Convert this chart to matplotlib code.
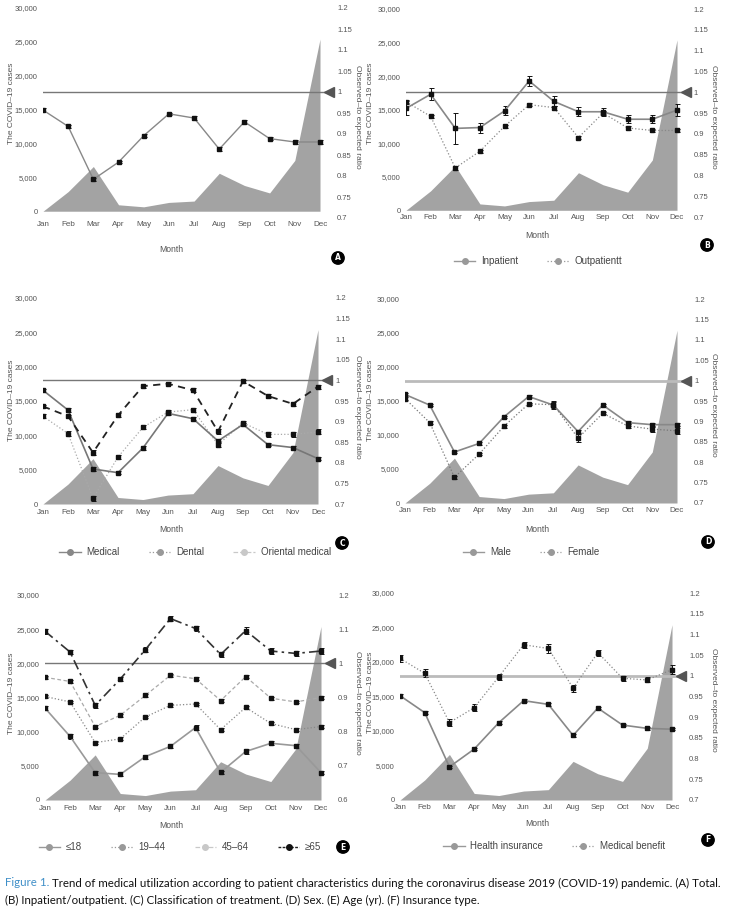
import numpy as np
import matplotlib
matplotlib.use('Agg')
import matplotlib.pyplot as plt
from matplotlib.lines import Line2D
from matplotlib.ticker import FuncFormatter
from matplotlib.transforms import blended_transform_factory

# ── data ─────────────────────────────────────────────────────────────────────
months = ['Jan', 'Feb', 'Mar', 'Apr', 'May', 'Jun',
          'Jul', 'Aug', 'Sep', 'Oct', 'Nov', 'Dec']
covid_cases = [0, 2900, 6600, 950, 650, 1300, 1500, 5600, 3800, 2700, 7500, 25400]

# (A) total
total       = [0.957, 0.918, 0.792, 0.833, 0.896, 0.948, 0.938, 0.864, 0.929, 0.889, 0.881, 0.881]
total_err   = [0.004, 0.004, 0.004, 0.003, 0.003, 0.003, 0.004, 0.004, 0.004, 0.004, 0.004, 0.005]

# (B) inpatient / outpatient
inpatient       = [0.961, 0.995, 0.913, 0.915, 0.955, 1.027, 0.978, 0.953, 0.953, 0.935, 0.935, 0.957]
inpatient_err   = [0.017, 0.014, 0.038, 0.012, 0.011, 0.011, 0.012, 0.011, 0.010, 0.010, 0.010, 0.015]
outpatient      = [0.977, 0.942, 0.818, 0.858, 0.918, 0.970, 0.963, 0.891, 0.950, 0.914, 0.908, 0.908]
outpatient_err  = [0.005, 0.004, 0.004, 0.004, 0.004, 0.004, 0.005, 0.004, 0.006, 0.004, 0.004, 0.004]

# (C) classification of treatment
medical       = [0.976, 0.928, 0.785, 0.776, 0.836, 0.920, 0.907, 0.853, 0.893, 0.844, 0.837, 0.810]
medical_err   = [0.003, 0.004, 0.004, 0.004, 0.004, 0.004, 0.004, 0.004, 0.004, 0.003, 0.003, 0.004]
dental        = [0.913, 0.871, 0.714, 0.814, 0.886, 0.923, 0.929, 0.844, 0.897, 0.869, 0.869, 0.875]
dental_err    = [0.005, 0.005, 0.006, 0.005, 0.005, 0.004, 0.005, 0.006, 0.005, 0.006, 0.006, 0.006]
oriental      = [0.937, 0.913, 0.825, 0.915, 0.986, 0.992, 0.976, 0.876, 0.998, 0.962, 0.943, 0.985]
oriental_err  = [0.004, 0.004, 0.005, 0.005, 0.004, 0.004, 0.005, 0.005, 0.004, 0.004, 0.004, 0.005]

# (D) sex
male          = [0.966, 0.940, 0.825, 0.846, 0.911, 0.961, 0.940, 0.875, 0.940, 0.897, 0.892, 0.892]
male_err      = [0.004, 0.003, 0.003, 0.003, 0.003, 0.003, 0.008, 0.004, 0.003, 0.003, 0.003, 0.004]
female        = [0.956, 0.897, 0.763, 0.820, 0.888, 0.943, 0.941, 0.859, 0.920, 0.889, 0.881, 0.877]
female_err    = [0.004, 0.003, 0.003, 0.003, 0.003, 0.003, 0.010, 0.010, 0.003, 0.006, 0.006, 0.007]

# (E) age (yr)
age_le18      = [0.869, 0.786, 0.680, 0.675, 0.727, 0.757, 0.812, 0.681, 0.742, 0.766, 0.759, 0.680]
age_le18_err  = [0.006, 0.006, 0.006, 0.006, 0.006, 0.006, 0.007, 0.005, 0.006, 0.006, 0.006, 0.005]
age_19_44     = [0.903, 0.887, 0.768, 0.779, 0.843, 0.877, 0.881, 0.806, 0.871, 0.824, 0.806, 0.815]
age_19_44_err = [0.004, 0.004, 0.004, 0.004, 0.004, 0.004, 0.004, 0.004, 0.004, 0.004, 0.004, 0.005]
age_45_64     = [0.959, 0.947, 0.815, 0.848, 0.906, 0.965, 0.955, 0.891, 0.961, 0.898, 0.887, 0.900]
age_45_64_err = [0.004, 0.004, 0.004, 0.004, 0.004, 0.004, 0.004, 0.004, 0.004, 0.004, 0.004, 0.005]
age_ge65      = [1.094, 1.033, 0.877, 0.954, 1.040, 1.131, 1.102, 1.026, 1.096, 1.036, 1.029, 1.036]
age_ge65_err  = [0.007, 0.007, 0.007, 0.006, 0.007, 0.007, 0.007, 0.008, 0.009, 0.008, 0.007, 0.009]

# (F) insurance type
health_ins      = [0.952, 0.911, 0.780, 0.823, 0.887, 0.940, 0.931, 0.856, 0.922, 0.881, 0.873, 0.871]
health_ins_err  = [0.003, 0.003, 0.003, 0.003, 0.003, 0.003, 0.003, 0.003, 0.003, 0.003, 0.003, 0.003]
med_benefit     = [1.042, 1.006, 0.887, 0.923, 0.998, 1.075, 1.066, 0.970, 1.056, 0.994, 0.990, 1.015]
med_benefit_err = [0.008, 0.010, 0.008, 0.008, 0.007, 0.007, 0.011, 0.008, 0.007, 0.006, 0.006, 0.011]

# ── style ────────────────────────────────────────────────────────────────────
W, H, DPI = 731, 915, 100
plt.rcParams.update({'font.family': ['Liberation Sans', 'DejaVu Sans']})

AREA  = '#a3a3a3'
TICK  = '#555555'
XMAX  = 11.35
x = np.arange(len(months))

fig = plt.figure(figsize=(W / DPI, H / DPI), dpi=DPI)


def fx(px):
    return px / W


def fy(py):
    return 1 - py / H


def panel(jan, dec, top, bottom, series, ratio_lo=0.7, case_lo=0,
          ref_color='#777777', ref_lw=1.0, xpad=2.5):
    step = (dec - jan) / 11
    right = jan + XMAX * step
    ax = fig.add_axes([fx(jan), fy(bottom), (right - jan) / W, (bottom - top) / H])
    ax.fill_between(x, covid_cases, color=AREA, lw=0)
    ax.set_xlim(0, XMAX)
    ax.set_ylim(case_lo, 30000)
    ax.set_yticks(np.arange(0, 30001, 5000))
    ax.yaxis.set_major_formatter(FuncFormatter(lambda v, p: f'{v:,.0f}'))
    ax.set_xticks(x)
    ax.set_xticklabels(months)
    ax.tick_params(axis='x', length=0, labelsize=5.8, colors=TICK, pad=xpad)
    ax.tick_params(axis='y', length=0, labelsize=5.5, colors=TICK, pad=4)

    ax2 = ax.twinx()
    ax2.set_ylim(ratio_lo, 1.2)
    step_r = 0.05 if ratio_lo == 0.7 else 0.1
    ax2.set_yticks(np.arange(ratio_lo, 1.2001, step_r))
    ax2.yaxis.set_major_formatter(FuncFormatter(lambda v, p: f'{round(v, 2):g}'))
    ax2.tick_params(length=0, labelsize=5.5, colors=TICK, pad=6)
    for a in (ax, ax2):
        for s in a.spines.values():
            s.set_visible(False)

    ax2.axhline(1.0, color=ref_color, lw=ref_lw, zorder=1)
    trans = blended_transform_factory(ax2.transAxes, ax2.transData)
    ax2.plot([1.0], [1.0], marker='<', ms=7, color='#555555', transform=trans,
             clip_on=False, zorder=5)

    for vals, err, color, ls, lw in series:
        ax2.errorbar(x, vals, yerr=err, color=color, linestyle=ls, lw=lw,
                     marker='s', ms=2.2, mfc='#111111', mec='#111111',
                     ecolor='#111111', elinewidth=0.7, capsize=1.8,
                     capthick=0.7, zorder=3)
    return ax, ax2


def labels(ylab_x, ylab_y, rlab_x, rlab_y, month_x, month_y, circ_x, circ_y, letter):
    fig.text(fx(ylab_x), fy(ylab_y), 'The COVID\u201319 cases', rotation=90,
             ha='center', va='center', fontsize=6, color=TICK)
    fig.text(fx(rlab_x), fy(rlab_y), 'Observed\u2013to expected ratio', rotation=-90,
             ha='center', va='center', fontsize=6, color=TICK)
    fig.text(fx(month_x), fy(month_y), 'Month', ha='center', va='center',
             fontsize=6.2, color=TICK)
    fig.text(fx(circ_x), fy(circ_y), letter, ha='center', va='center',
             color='white', fontsize=5.5, fontweight='bold', family='DejaVu Sans',
             bbox=dict(boxstyle='circle,pad=0.22', fc='black', ec='black'))


def legend(cx, cy, entries):
    handles = [Line2D([], [], color=c, ls=ls, lw=lw, marker='o', ms=4,
                      mfc=mc, mec=mc) for (_, c, ls, lw, mc) in entries]
    names = [e[0] for e in entries]
    leg = fig.legend(handles, names, loc='center', bbox_to_anchor=(fx(cx), fy(cy)),
                     ncol=len(entries), frameon=False, fontsize=7,
                     handlelength=2.2, handletextpad=0.6, columnspacing=3.0)
    for t in leg.get_texts():
        t.set_color('#444444')


# ── (A) Total ────────────────────────────────────────────────────────────────
panel(43, 320, 8, 218,
      [(total, total_err, '#888888', '-', 1.0)], case_lo=-1000, xpad=2)
labels(12, 103, 358, 117, 171, 249, 338, 258, 'A')

# ── (B) Inpatient / outpatient ───────────────────────────────────────────────
panel(406, 677, 9, 217,
      [(inpatient, inpatient_err, '#888888', '-', 1.2),
       (outpatient, outpatient_err, '#888888', ':', 0.9)], case_lo=-1000, xpad=-2)
labels(370, 103, 713, 117, 537, 236, 707, 245, 'B')
legend(538, 261, [('Inpatient', '#999999', '-', 1.0, '#999999'),
                  ('Outpatientt', '#999999', ':', 0.9, '#999999')])

# ── (C) Classification of treatment ──────────────────────────────────────────
panel(43, 318, 298, 504,
      [(dental, dental_err, '#aaaaaa', ':', 0.9),
       (medical, medical_err, '#777777', '-', 1.2),
       (oriental, oriental_err, '#222222', (0, (4, 3)), 1.3)], xpad=3.5)
labels(12, 400, 358, 407, 171, 529, 342, 543, 'C')
legend(195, 552, [('Medical', '#888888', '-', 1.0, '#888888'),
                  ('Dental', '#999999', ':', 0.9, '#999999'),
                  ('Oriental medical', '#c8c8c8', '--', 0.9, '#c8c8c8')])

# ── (D) Sex ──────────────────────────────────────────────────────────────────
panel(405, 677, 299, 503,
      [(male, male_err, '#888888', '-', 1.2),
       (female, female_err, '#777777', ':', 0.9)],
      ref_color='#bbbbbb', ref_lw=2.0, xpad=3)
labels(370, 400, 713, 405, 537, 529, 708, 542, 'D')
legend(531, 552, [('Male', '#999999', '-', 1.0, '#999999'),
                  ('Female', '#999999', ':', 0.9, '#999999')])

# ── (E) Age ──────────────────────────────────────────────────────────────────
panel(45, 321, 595, 800,
      [(age_le18, age_le18_err, '#999999', '-', 1.2),
       (age_19_44, age_19_44_err, '#888888', ':', 0.9),
       (age_45_64, age_45_64_err, '#aaaaaa', (0, (3, 2)), 0.9),
       (age_ge65, age_ge65_err, '#333333', (0, (6, 2.5, 1.5, 2.5)), 1.2)],
      ratio_lo=0.6, xpad=3.5)
labels(12, 693, 358, 703, 171, 826, 343, 847, 'E')
legend(180, 847, [('\u226418', '#999999', '-', 1.0, '#999999'),
                  ('19\u201344', '#999999', ':', 0.9, '#999999'),
                  ('45\u201364', '#c8c8c8', '--', 0.9, '#c8c8c8'),
                  ('\u226565', '#222222', (0, (2, 1)), 1.0, '#111111')])

# ── (F) Insurance type ───────────────────────────────────────────────────────
panel(400, 672, 593, 800,
      [(health_ins, health_ins_err, '#888888', '-', 1.2),
       (med_benefit, med_benefit_err, '#888888', ':', 0.9)],
      ref_color='#bbbbbb', ref_lw=2.0, xpad=3)
labels(370, 692, 713, 700, 537, 824, 708, 840, 'F')
legend(554, 846, [('Health insurance', '#999999', '-', 1.0, '#999999'),
                  ('Medical benefit', '#999999', ':', 0.9, '#999999')])

# ── caption ──────────────────────────────────────────────────────────────────
CAP_FONT = ['Lato', 'DejaVu Sans']
head = 'Figure 1.'
line1 = (' Trend of medical utilization according to patient characteristics during '
         'the coronavirus disease 2019 (COVID-19) pandemic. (A) Total.')
line2 = '(B) Inpatient/outpatient. (C) Classification of treatment. (D) Sex. (E) Age (yr). (F) Insurance type.'

r = fig.canvas.get_renderer()
probe = fig.text(0, 0, head + line1, fontsize=8, family=CAP_FONT)
fs_cap = 8 * 722 / probe.get_window_extent(r).width
probe.remove()

t_head = fig.text(fx(5), fy(883), head, fontsize=fs_cap, family=CAP_FONT,
                  color='#3f8fc8', va='center')
w_head = t_head.get_window_extent(r).width
fig.text(fx(5 + w_head), fy(883), line1, fontsize=fs_cap, family=CAP_FONT,
         color='#111111', va='center')
fig.text(fx(5), fy(900), line2, fontsize=fs_cap, family=CAP_FONT,
         color='#111111', va='center')

plt.savefig('out.png', dpi=DPI)
plt.close()
